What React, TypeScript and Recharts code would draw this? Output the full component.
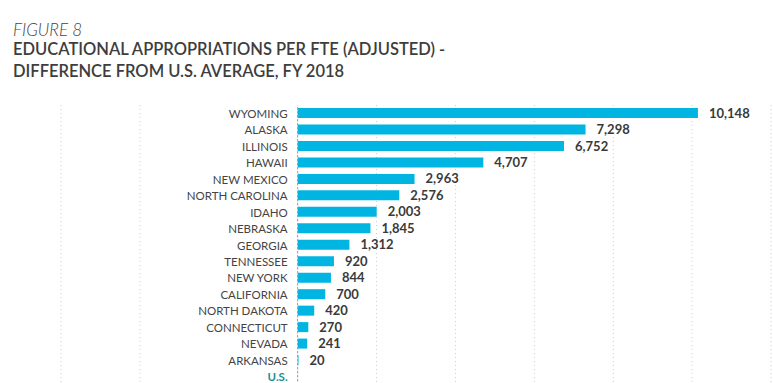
import React from 'react';
import { ComposedChart, Bar, Line, XAxis, YAxis, CartesianGrid, ReferenceLine, LabelList } from 'recharts';

const states = [
  'WYOMING', 'ALASKA', 'ILLINOIS', 'HAWAII', 'NEW MEXICO', 'NORTH CAROLINA', 'IDAHO', 'NEBRASKA',
  'GEORGIA', 'TENNESSEE', 'NEW YORK', 'CALIFORNIA', 'NORTH DAKOTA', 'CONNECTICUT', 'NEVADA', 'ARKANSAS', 'U.S.',
];
const diffs = [10148, 7298, 6752, 4707, 2963, 2576, 2003, 1845, 1312, 920, 844, 700, 420, 270, 241, 20, 0];
const gridTicks = [-6000, -4000, 0, 2000, 4000, 6000, 8000, 10000, 12000];

const data = states.map((name, i) => ({ name, value: diffs[i] }));

const FONT = 'Lato, "Open Sans", sans-serif';

// names sit just left of the zero line, anchored on an invisible line at 0
const NameLabel = (props: any) => {
  const { x, y, value } = props;
  const isUS = value === 'U.S.';
  return (
    <text
      x={x - 10}
      y={y}
      textAnchor="end"
      dominantBaseline="central"
      fontFamily={FONT}
      fontSize={11.5}
      fontWeight={isUS ? 700 : 400}
      fill={isUS ? '#1b9090' : '#444'}
    >
      {value}
    </text>
  );
};

export default function App() {
  return (
    <div style={{ position: 'absolute', left: 0, top: 0, width: 773, height: 383, overflow: 'hidden', background: '#fff', fontFamily: FONT }}>
      <div style={{ position: 'absolute', left: 13, top: 19, fontSize: 17, fontStyle: 'italic', fontWeight: 300, color: '#444' }}>
        FIGURE 8
      </div>
      <div style={{ position: 'absolute', left: 13, top: 39, fontSize: 16.5, fontWeight: 600, color: '#3d3d3d', lineHeight: '21.5px' }}>
        EDUCATIONAL APPROPRIATIONS PER FTE (ADJUSTED) -<br />
        DIFFERENCE FROM U.S. AVERAGE, FY 2018
      </div>
      <div style={{ position: 'absolute', left: 0, top: 0 }}>
        <ComposedChart
          width={773}
          height={390}
          data={data}
          layout="vertical"
          margin={{ top: 105, right: 2, bottom: 5, left: 61 }}
          barSize={10}
        >
          <CartesianGrid horizontal={false} stroke="#ccc" strokeDasharray="1 3" />
          <XAxis type="number" domain={[-6000, 12000]} ticks={gridTicks} hide />
          <YAxis type="category" dataKey="name" hide width={0} />
          <ReferenceLine x={0} stroke="#999" strokeDasharray="2 2" />
          <Bar dataKey="value" fill="#00b5e2" isAnimationActive={false}>
            <LabelList
              dataKey="value"
              position="right"
              offset={11}
              formatter={(v: any) => (v ? Number(v).toLocaleString('en-US') : '')}
              style={{ fontFamily: FONT, fontSize: 13, fontWeight: 700, fill: '#3a3a3a' }}
            />
          </Bar>
          <Line dataKey={() => 0} stroke="none" dot={false} activeDot={false} isAnimationActive={false}>
            <LabelList dataKey="name" content={NameLabel} />
          </Line>
        </ComposedChart>
      </div>
    </div>
  );
}
